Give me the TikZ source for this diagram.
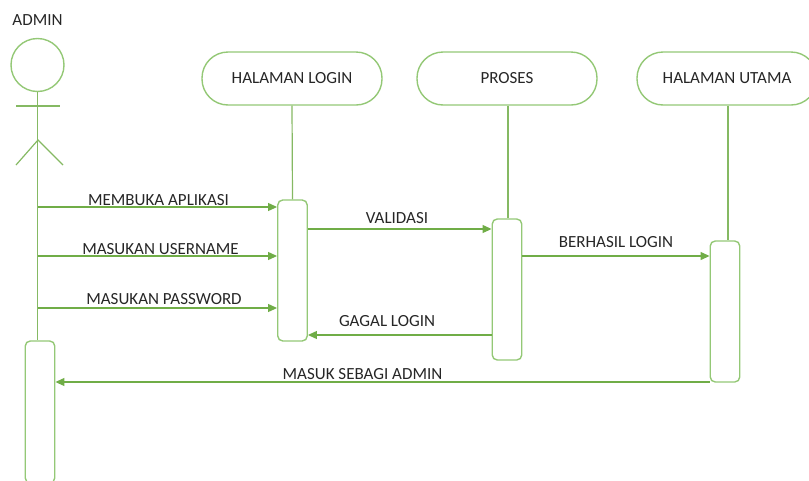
\documentclass[tikz,border=0pt]{standalone}
\usepackage{fontspec}
\setmainfont{Carlito}
\usetikzlibrary{arrows.meta}
\definecolor{linegreen}{RGB}{148,200,118}
\definecolor{arrowgreen}{RGB}{112,173,71}
\begin{document}
\begin{tikzpicture}[x=1pt, y=-1pt, thick,
    main/.style = {draw=linegreen, rounded corners=26pt, minimum width=180pt, minimum height=53pt, inner sep=0pt, line width=1.4pt, font=\fontsize{17}{19}\selectfont, text=black!85},
    act/.style = {draw=linegreen, rounded corners=5pt, minimum width=29.5pt, inner sep=0pt, line width=1.4pt},
    lbl/.style = {font=\fontsize{17}{19}\selectfont, text=black!85, inner sep=0pt},
    life/.style = {draw=arrowgreen!85, line width=1.2pt},
    msg/.style = {draw=arrowgreen, line width=1.2pt, -{Triangle[length=9pt, width=8pt]}}]
    \useasboundingbox (0,0) rectangle (809,480);

    \node[lbl] (adminlabel) at (37.5,20) {ADMIN};
    \node[circle, draw=linegreen, line width=1.4pt, minimum size=53pt, inner sep=0pt] (head) at (37.5,65) {};
    \coordinate (armL) at (16,106);
    \coordinate (armR) at (60,106);
    \coordinate (hip) at (38,140);
    \coordinate (legL) at (16,165);
    \coordinate (legR) at (63,165);

    \node[main] (login) at (292,78.5) {HALAMAN LOGIN};
    \node[main] (proses) at (507,78.5) {PROSES};
    \node[main] (utama) at (727,78.5) {HALAMAN UTAMA};

    \node[act, minimum height=142pt] (actadmin) at (40,412) {};
    \node[act, minimum height=141pt] (actlogin) at (292.5,270.5) {};
    \node[act, minimum height=141pt] (actproses) at (507,289.5) {};
    \node[act, minimum height=141pt] (actutama) at (725,311.5) {};

    % stick figure
    \draw[life] (head.south) -- (actadmin.north -| head.south);
    \draw[life] (armL) -- (armR);
    \draw[life] (legL) -- (hip) -- (legR);

    % lifelines
    \draw[life] (login.south) -- (actlogin.north);
    \draw[life] ([xshift=1pt]proses.south) -- ([xshift=1pt]actproses.north);
    \draw[life] ([xshift=1pt]utama.south) -- ([xshift=1pt]actutama.north -| utama.south);

    % messages
    \coordinate (m1) at (38,207);
    \coordinate (m2) at (38,256);
    \coordinate (m3) at (38,308);
    \draw[msg] (m1) -- (m1 -| actlogin.west);
    \draw[msg] (m2) -- (m2 -| actlogin.west);
    \draw[msg] (m3) -- (m3 -| actlogin.west);
    \coordinate (m4) at (307,229);
    \coordinate (m5) at (522,256);
    \coordinate (m6) at (492,335);
    \coordinate (m7) at (710,382);
    \draw[msg] (m4 -| actlogin.east) -- (m4 -| actproses.west);
    \draw[msg] (m5 -| actproses.east) -- (m5 -| actutama.west);
    \draw[msg] (m6 -| actproses.west) -- (m6 -| actlogin.east);
    \draw[msg] (m7 -| actutama.west) -- (m7 -| actadmin.east);

    \node[lbl] (t1) at (158.5,200) {MEMBUKA APLIKASI};
    \node[lbl] (t2) at (160.5,249.5) {MASUKAN USERNAME};
    \node[lbl] (t3) at (164,299.5) {MASUKAN PASSWORD};
    \node[lbl] (t4) at (397,218) {VALIDASI};
    \node[lbl] (t5) at (616,242) {BERHASIL LOGIN};
    \node[lbl] (t6) at (387,321) {GAGAL LOGIN};
    \node[lbl] (t7) at (362.5,374) {MASUK SEBAGI ADMIN};
\end{tikzpicture}
\end{document}
